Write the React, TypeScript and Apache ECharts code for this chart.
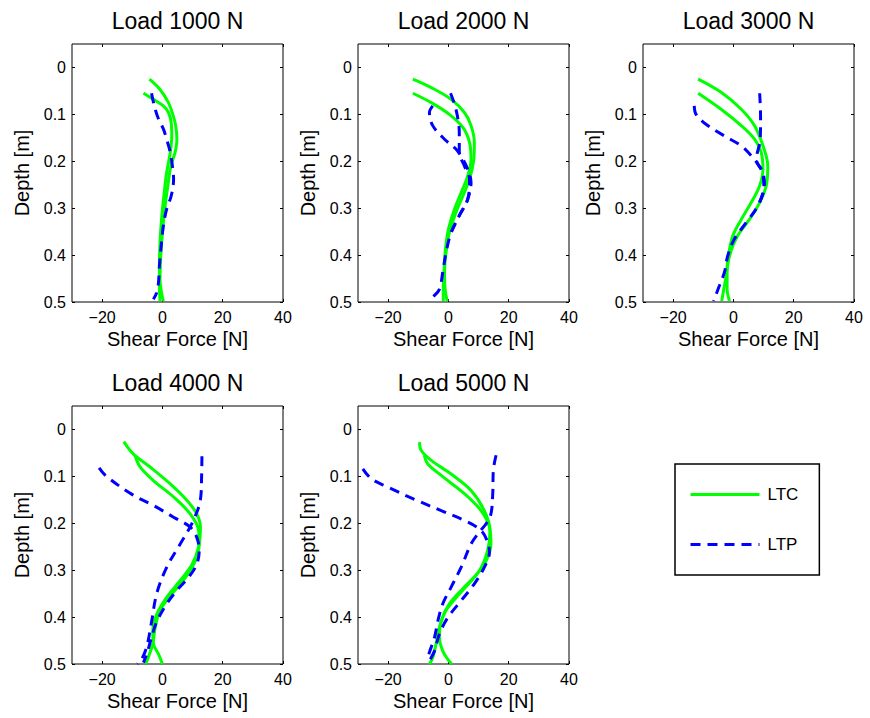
import React, { useEffect, useRef } from "react";
import * as echarts from "echarts";

// ---------- data: [shear force N, depth m] ----------
const titles = ["Load 1000 N", "Load 2000 N", "Load 3000 N", "Load 4000 N", "Load 5000 N"];
const xTicks = [-20, 0, 20, 40];
const yTicks = [0, 0.1, 0.2, 0.3, 0.4, 0.5];

const ltc1a = [[-4.3,0.025],[-0.8,0.047],[2,0.075],[3.4,0.099],[4.4,0.124],[4.8,0.153],[4.2,0.181],[2.8,0.21],[1.8,0.252],[0.9,0.295],[0,0.352],[-0.6,0.409],[-0.8,0.451],[-0.3,0.48],[0.3,0.498]];
const ltc1b = [[-6.3,0.055],[-3,0.068],[0.3,0.082],[2,0.096],[2.9,0.117],[3.1,0.146],[2.6,0.181],[1.4,0.224],[0.6,0.267],[-0.2,0.316],[-0.8,0.373],[-1,0.423],[-1,0.466],[-0.8,0.498]];
const ltp1a = [[-3.6,0.055],[-2.7,0.082],[-1.3,0.11],[0.3,0.131],[1.4,0.153],[2.6,0.181],[3.3,0.21],[3.7,0.238],[2.9,0.274],[1.4,0.302],[0.3,0.338],[-0.4,0.38],[-1,0.423],[-1.3,0.458],[-1.9,0.48],[-3,0.494]];

const ltc2a = [[-11.8,0.025],[-5.7,0.043],[0.9,0.068],[5.3,0.096],[7.5,0.124],[8.6,0.16],[8.4,0.196],[7,0.238],[4.8,0.274],[2.5,0.309],[0.3,0.352],[-0.8,0.395],[-1.3,0.437],[-1.1,0.473],[-0.4,0.498]];
const ltc2b = [[-11.8,0.055],[-5.7,0.075],[0.3,0.1],[4.8,0.128],[7,0.16],[7.5,0.196],[6.4,0.231],[4.2,0.267],[2,0.302],[0,0.345],[-1,0.388],[-1.5,0.437],[-1.7,0.473],[-1.7,0.498]];
const ltp2a = [[0.7,0.055],[2.5,0.089],[3.6,0.139],[3.6,0.181],[5.3,0.21],[7,0.238],[6.4,0.281],[3.6,0.316],[0.9,0.352],[-0.8,0.395],[-1.9,0.437],[-3,0.473],[-5.2,0.49],[-6.5,0.5]];
const ltp2b = [[-5.2,0.082],[-6.3,0.096],[-5.2,0.124],[-1.3,0.153],[2.5,0.174],[4.8,0.196],[6.4,0.217],[7.5,0.245],[6.4,0.281],[3.6,0.316],[1,0.35]];

const ltc3a = [[-11.7,0.025],[-4.1,0.053],[2.6,0.089],[7,0.124],[9.8,0.167],[11.4,0.21],[10.9,0.252],[8.7,0.288],[5.3,0.324],[1.4,0.359],[-1,0.395],[-2.1,0.437],[-2.1,0.473],[-1.3,0.498]];
const ltc3b = [[-11.7,0.055],[-4.1,0.089],[2.6,0.124],[7,0.153],[9.2,0.181],[9.8,0.217],[8.7,0.252],[5.9,0.288],[2.6,0.324],[-0.2,0.359],[-1.7,0.402],[-2.4,0.444],[-3.2,0.473],[-3.9,0.498]];
const ltp3a = [[8.7,0.055],[9,0.103],[8.9,0.153],[7.6,0.196],[9.5,0.222],[10.1,0.252],[8.1,0.295],[4.2,0.331],[0.3,0.366],[-1.9,0.402],[-3,0.437],[-4.7,0.466],[-6.6,0.498]];
const ltp3b = [[-13,0.082],[-12.4,0.1],[-9.1,0.121],[-3,0.146],[2.6,0.167],[5.9,0.188],[8.1,0.206],[9.8,0.224],[10.3,0.252],[8.3,0.293]];

const ltc4a = [[-12.8,0.026],[-9.7,0.052],[-4.1,0.08],[2.6,0.116],[8.1,0.151],[11.4,0.18],[12.6,0.208],[12,0.25],[9.8,0.288],[5.9,0.322],[1.4,0.358],[-1.9,0.394],[-3.2,0.43],[-3,0.457],[-1.3,0.479],[0,0.5]];
const ltc4b = [[-9.1,0.055],[-7.4,0.08],[-3,0.109],[3.7,0.144],[9.2,0.18],[12,0.215],[12.2,0.245],[10.9,0.28],[7.6,0.316],[3.1,0.351],[-0.8,0.386],[-2.4,0.422],[-3.2,0.457],[-4.7,0.486],[-5.6,0.5]];
const ltp4a = [[13.1,0.057],[13,0.1],[12.6,0.15],[9.8,0.2],[5.9,0.244],[1.4,0.294],[-1.9,0.35],[-3.6,0.41],[-5.2,0.463],[-6.9,0.49],[-8.3,0.5]];
const ltp4b = [[-21,0.082],[-18.6,0.1],[-9.7,0.14],[-3,0.162],[3.7,0.187],[9.2,0.208],[11.4,0.23],[12.2,0.258],[11.4,0.287],[8.7,0.315],[4.8,0.343],[1.4,0.372],[-1.9,0.41],[-3.6,0.443],[-5.2,0.479],[-6.3,0.497]];

const ltc5a = [[-9.6,0.027],[-9,0.045],[-5.7,0.066],[0.9,0.095],[7.5,0.13],[11.9,0.173],[13.8,0.215],[13,0.258],[10.3,0.301],[5.3,0.336],[0.3,0.372],[-2.4,0.408],[-3,0.443],[-1.9,0.472],[-0.2,0.49],[1.1,0.5]];
const ltc5b = [[-8,0.055],[-6.9,0.073],[-2.4,0.098],[5.3,0.137],[10.8,0.173],[13.6,0.208],[14.1,0.244],[12.5,0.28],[8.6,0.315],[3.6,0.351],[-0.8,0.386],[-3,0.422],[-4.1,0.457],[-5.2,0.486],[-6.3,0.5]];
const ltp5a = [[15.8,0.055],[14.9,0.087],[14.7,0.137],[14.1,0.18],[12.5,0.201],[9.7,0.223],[7.5,0.244],[4.2,0.294],[0.9,0.336],[-1.9,0.372],[-3.5,0.408],[-4.6,0.443],[-6.3,0.475],[-7.1,0.493]];
const ltp5b = [[-28.4,0.084],[-25.6,0.105],[-20.1,0.123],[-10.2,0.152],[-2.4,0.173],[5.3,0.194],[10.8,0.215],[13,0.24],[13.6,0.262],[11.9,0.294],[8.6,0.329],[4.2,0.365],[-0.2,0.401],[-3,0.436],[-4.6,0.472],[-6.3,0.493]];

const ltcCurves = [[ltc1a, ltc1b], [ltc2a, ltc2b], [ltc3a, ltc3b], [ltc4a, ltc4b], [ltc5a, ltc5b]];
const ltpCurves = [[ltp1a], [ltp2a, ltp2b], [ltp3a, ltp3b], [ltp4a, ltp4b], [ltp5a, ltp5b]];

// ---------- layout ----------
const FONT = "'Liberation Sans', Arial, Helvetica, sans-serif";
const GREEN = "#00ff00";
const BLUE = "#0000ff";
const grids = [
  { left: 72, top: 44 },
  { left: 358, top: 44 },
  { left: 643, top: 44 },
  { left: 72, top: 406 },
  { left: 358, top: 406 },
];
const GW = 211;
const GH = 258;

const fmtX = (v: number) => (v < 0 ? "\u2212" + Math.abs(v) : String(v));
const fmtY = (v: number) => (v === 0 ? "0" : String(v));

export default function App() {
  const ref = useRef<HTMLDivElement>(null);
  useEffect(() => {
    if (!ref.current) return;
    const chart = echarts.init(ref.current, undefined, { renderer: "svg" });

    const xAxes: any[] = [];
    const yAxes: any[] = [];
    const tickStyle = { show: true, inside: true, length: 3, lineStyle: { color: "#000", width: 1 } };
    const noLine = { show: false, onZero: false };
    grids.forEach((_, i) => {
      xAxes.push({
        type: "value", gridIndex: i, min: -30, max: 40, position: "bottom",
        name: "Shear Force [N]", nameLocation: "middle", nameGap: 27,
        nameTextStyle: { fontFamily: FONT, fontSize: 20, color: "#000" },
        axisLine: noLine,
        axisTick: { ...tickStyle, customValues: xTicks },
        axisLabel: { customValues: xTicks, formatter: fmtX, fontFamily: FONT, fontSize: 16, color: "#000", margin: 7 },
        splitLine: { show: false },
      });
      yAxes.push({
        type: "value", gridIndex: i, min: -0.05, max: 0.5, inverse: true, position: "left",
        name: "Depth [m]", nameLocation: "middle", nameGap: 40,
        nameTextStyle: { fontFamily: FONT, fontSize: 20, color: "#000" },
        axisLine: noLine,
        axisTick: { ...tickStyle, customValues: yTicks },
        axisLabel: { customValues: yTicks, formatter: fmtY, fontFamily: FONT, fontSize: 16, color: "#000", margin: 6 },
        splitLine: { show: false },
      });
    });
    grids.forEach((_, i) => {
      xAxes.push({
        type: "value", gridIndex: i, min: -30, max: 40, position: "top",
        axisLine: noLine, axisTick: { ...tickStyle, customValues: xTicks },
        axisLabel: { show: false }, splitLine: { show: false },
      });
      yAxes.push({
        type: "value", gridIndex: i, min: -0.05, max: 0.5, inverse: true, position: "right",
        axisLine: noLine, axisTick: { ...tickStyle, customValues: yTicks },
        axisLabel: { show: false }, splitLine: { show: false },
      });
    });

    const series: any[] = [];
    grids.forEach((_, i) => {
      ltcCurves[i].forEach((c) => {
        series.push({
          type: "line", name: "LTC", xAxisIndex: i, yAxisIndex: i, data: c,
          symbol: "none", showSymbol: false, smooth: 0.35,
          lineStyle: { color: GREEN, width: 3 }, itemStyle: { color: GREEN },
        });
      });
      ltpCurves[i].forEach((c) => {
        series.push({
          type: "line", name: "LTP", xAxisIndex: i, yAxisIndex: i, data: c,
          symbol: "none", showSymbol: false, smooth: 0.35,
          lineStyle: { color: BLUE, width: 3, type: [10, 7] }, itemStyle: { color: BLUE },
        });
      });
    });

    chart.setOption({
      animation: false,
      backgroundColor: "#fff",
      title: titles.map((t, i) => ({
        text: t,
        left: grids[i].left + GW / 2,
        top: grids[i].top - 23,
        textAlign: "center",
        textVerticalAlign: "middle",
        padding: 0,
        textStyle: { fontFamily: FONT, fontSize: 23, fontWeight: "normal", color: "#000" },
      })),
      grid: grids.map((g) => ({
        left: g.left, top: g.top, width: GW, height: GH,
        show: true, borderColor: "#000", borderWidth: 1, backgroundColor: "transparent",
      })),
      xAxis: xAxes,
      yAxis: yAxes,
      legend: {
        data: ["LTC", "LTP"],
        orient: "vertical",
        left: 675,
        top: 464,
        padding: [22, 21, 22, 14],
        itemWidth: 69,
        itemHeight: 16,
        itemGap: 33,
        selectedMode: false,
        borderColor: "#000",
        borderWidth: 1.5,
        borderRadius: 0,
        itemStyle: { opacity: 0, borderWidth: 0 },
        lineStyle: { width: 3 },
        textStyle: { fontFamily: FONT, fontSize: 17, color: "#000", padding: [0, 0, 0, 3] },
      },
      series,
    });
    return () => chart.dispose();
  }, []);
  return <div ref={ref} style={{ position: "fixed", left: 0, top: 0, width: 870, height: 718 }} />;
}
